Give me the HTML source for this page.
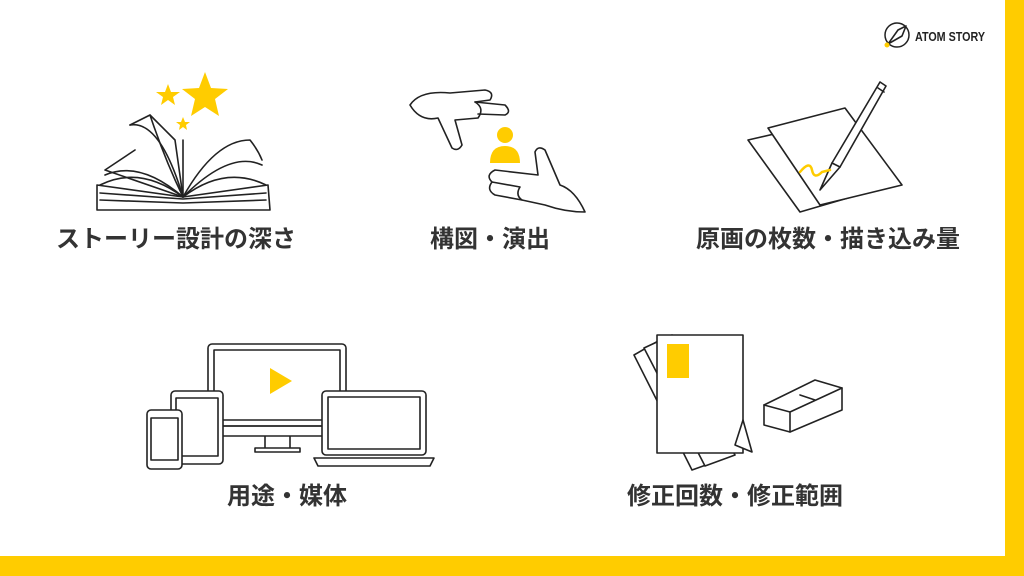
<!DOCTYPE html>
<html><head><meta charset="utf-8"><style>
html,body{margin:0;padding:0}
body{width:1024px;height:576px;position:relative;background:#fff;overflow:hidden;font-family:"Liberation Sans","Noto Sans CJK JP",sans-serif}
.r{position:absolute;left:1005px;top:0;width:19px;height:576px;background:#FFCC00}
.b{position:absolute;left:0;top:556px;width:1024px;height:20px;background:#FFCC00}
.l{position:absolute;font-size:24px;font-weight:bold;color:#333;transform:translateX(-50%);white-space:nowrap;line-height:1}
svg{position:absolute;left:0;top:0}
</style></head><body>
<div class="r"></div><div class="b"></div>
<svg width="1024" height="576" fill="none" stroke="#222" stroke-width="1.6" stroke-linejoin="round" stroke-linecap="round">
<!-- logo -->
<circle cx="897" cy="35" r="12" stroke-width="1.5"/>
<path d="M888 44 L898 30 L906 26 L902 36 Z"/>
<circle cx="887" cy="45" r="2.5" fill="#FFCC00" stroke="none"/>
<text x="915" y="41" font-family="Liberation Sans" font-weight="bold" font-size="13" fill="#222" stroke="none" textLength="70" lengthAdjust="spacingAndGlyphs">ATOM STORY</text>
<!-- book -->
<path d="M97 210 L270 210 L268 185 L183 197 L97 185 Z" fill="#fff"/>
<path d="M100 200 L183 203 L266 200 M100 193 L183 199 L266 193"/>
<path d="M100 185 Q140 165 183 197 Q225 165 266 185"/>
<path d="M105 175 Q140 160 183 197 Q230 150 262 165"/>
<path d="M130 125 Q160 120 183 197 Q215 140 250 140 Q258 150 262 160"/>
<path d="M130 125 L150 115 L175 140 L183 197 M150 115 Q165 160 183 197"/>
<path d="M135 150 L105 170 L183 197"/>
<path d="M183 140 L183 197"/>
<g fill="#FFCC00" stroke="none">
<polygon points="205,72 211,88 228,89 215,99 219,116 205,107 191,116 195,99 182,89 199,88"/>
<polygon points="168,84 171,92 180,92 173,97 175,105 168,100 161,105 163,97 156,92 165,92"/>
<polygon points="183,117 185,122 190,122 186,125 187,130 183,127 179,130 180,125 176,122 181,122"/>
</g>
<!-- frame hands -->
<path d="M410 105 Q420 90 450 93 L485 90 Q495 92 490 100 L475 102 Q485 108 478 118 L455 120 L462 145 Q458 152 452 148 L438 118 Q420 122 410 105 Z"/>
<path d="M475 102 L505 105 Q512 112 505 115 L478 114"/>
<path d="M585 212 Q575 190 560 185 L545 150 Q538 145 535 152 L538 175 L495 170 Q485 175 492 182 L520 187 Q515 195 522 200 L545 205 Q565 212 585 212 Z"/>
<path d="M492 182 Q486 190 495 195 L522 200"/>
<circle cx="505" cy="135" r="8" fill="#FFCC00" stroke="none"/>
<path d="M490 163 Q490 146 505 146 Q520 146 520 163 Z" fill="#FFCC00" stroke="none"/>
<!-- papers pencil -->
<path d="M748 140 L835 120 L882 188 L800 212 Z" fill="#fff"/>
<path d="M768 128 L845 108 L902 185 L820 205 Z" fill="#fff"/>
<path d="M820 190 L832 163 L880 82 L886 86 L840 167 Z" fill="#fff"/>
<path d="M832 163 L840 167 M878 88 L884 92"/>
<path d="M800 172 Q810 160 812 170 Q814 180 822 172 L830 170" stroke="#FFCC00" stroke-width="2.5"/>
<!-- devices -->
<rect x="208" y="344" width="138" height="82" rx="4"/>
<rect x="214" y="350" width="126" height="70"/>
<path d="M208 426 L346 426 L346 436 L208 436 M265 436 L265 448 L290 448 L290 436 M255 452 L300 452 L300 448 L255 448 Z"/>
<polygon points="270,368 270,394 292,381" fill="#FFCC00" stroke="none"/>
<rect x="171" y="391" width="52" height="73" rx="4" fill="#fff"/>
<rect x="176" y="398" width="42" height="58"/>
<rect x="147" y="410" width="35" height="59" rx="4" fill="#fff"/>
<rect x="151" y="418" width="27" height="42"/>
<rect x="322" y="391" width="104" height="64" rx="4" fill="#fff"/>
<rect x="328" y="397" width="92" height="52"/>
<path d="M314 458 L434 458 L430 466 L318 466 Z"/>
<!-- paper stack + eraser -->
<path d="M634 355 L660 340 L720 460 L692 470 Z" fill="#fff"/>
<path d="M644 348 L672 335 L735 455 L705 466 Z" fill="#fff"/>
<rect x="657" y="335" width="86" height="118" fill="#fff"/>
<path d="M743 420 L752 452 L735 445 Z" fill="#fff"/>
<rect x="667" y="344" width="22" height="34" fill="#FFCC00" stroke="none"/>
<path d="M764 405 L815 380 L842 388 L842 410 L790 432 L764 425 Z" fill="#fff"/>
<path d="M764 405 L790 412 L842 388 M790 412 L790 432 M800 395 L815 400"/>
</svg>
<div class="l" style="left:176px;top:228px">ストーリー設計の深さ</div>
<div class="l" style="left:490px;top:228px">構図・演出</div>
<div class="l" style="left:828px;top:228px">原画の枚数・描き込み量</div>
<div class="l" style="left:287px;top:485px">用途・媒体</div>
<div class="l" style="left:735px;top:485px">修正回数・修正範囲</div>
</body></html>
